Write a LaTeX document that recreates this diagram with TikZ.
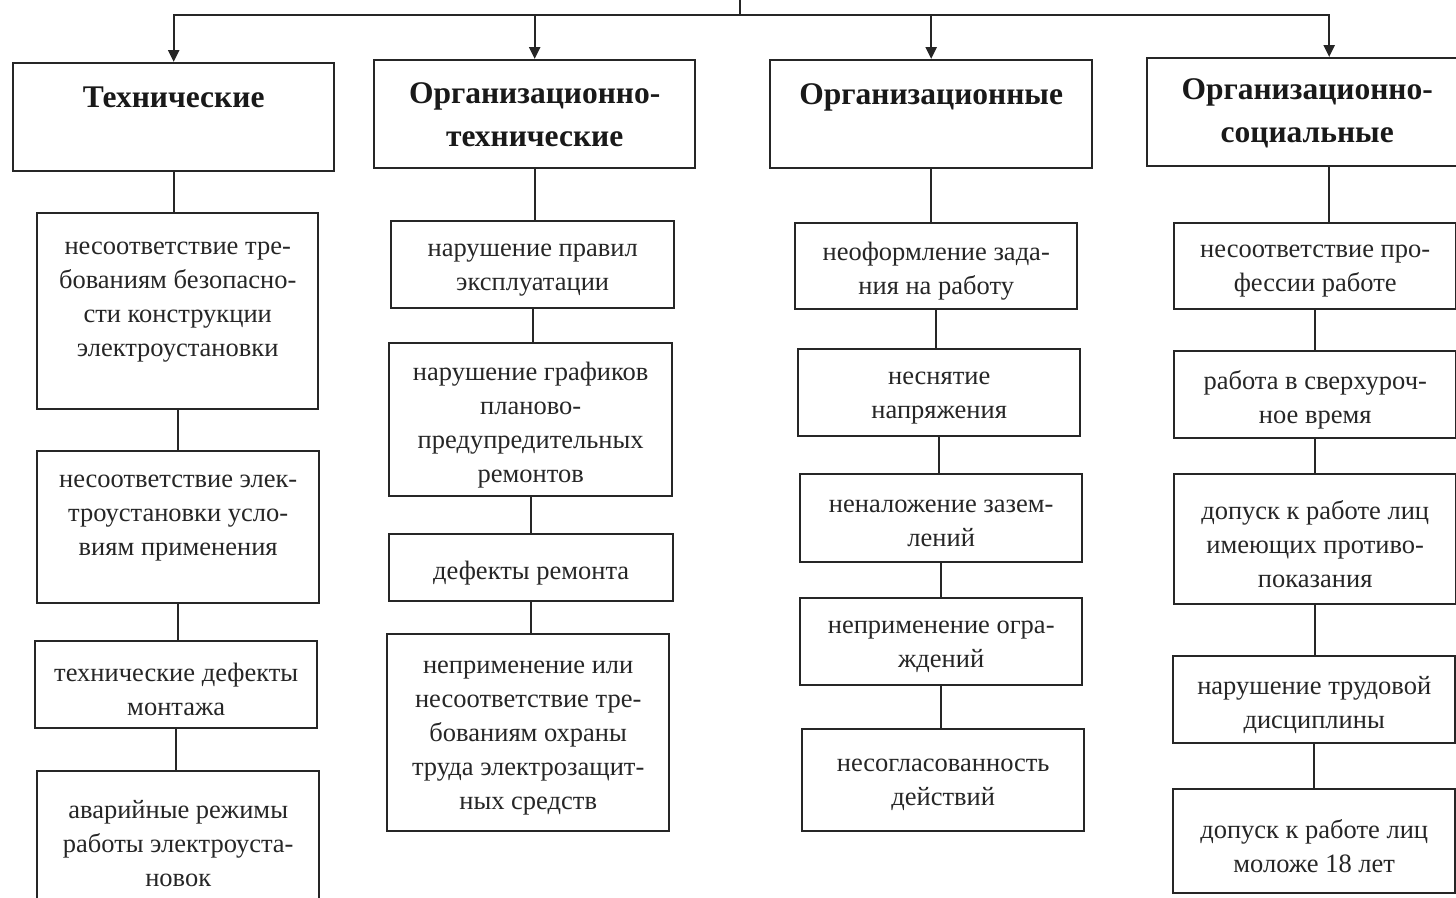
\documentclass[tikz,border=0pt]{standalone}
\usepackage{fontspec}
\setmainfont{Liberation Serif}
\usetikzlibrary{arrows.meta}
\tikzset{
 box/.style={draw=black!85, line width=2.4pt, fill=white, inner sep=0pt},
 head/.style={box},
 boxtext/.style={align=center, inner sep=0pt, text=black!85, font=\fontsize{26.5}{34}\selectfont, yshift=-5pt},
 headtext/.style={align=center, inner sep=0pt, text=black!90, font=\bfseries\fontsize{31.5}{43}\selectfont, yshift=-1pt},
 link/.style={draw=black!85, line width=2.4pt},
 arr/.style={link, -{Triangle[length=12pt,width=11pt]}},
}
\newcommand\bx[7][box]{%
  \node[#1, anchor=north west, minimum width={(#5-#3)*1pt}, minimum height={(#6-#4)*1pt}] (#2) at (#3pt,-#4pt) {};
  \node[#1text] (#2t) at (#2.center) {#7};}
\begin{document}
\begin{tikzpicture}
\useasboundingbox (0pt,0pt) rectangle (1456pt,-897pt);
% headers
\bx[head]{h1}{12}{62}{333}{170}{Технические\\\mbox{}}
\bx[head]{h2}{373}{59}{694}{167}{Организационно-\\технические}
\bx[head]{h3}{769}{59}{1091}{167}{Организационные\\\mbox{}}
\bx[head]{h4}{1146}{57}{1466}{165}{Организационно-\\социальные}
% column 1
\bx{a1}{36}{212}{317}{408}{несоответствие тре-\\бованиям безопасно-\\сти конструкции\\электроустановки\\\mbox{}}
\bx{a2}{36}{450}{318}{602}{несоответствие элек-\\троустановки усло-\\виям применения\\\mbox{}}
\bx{a3}{34}{640}{316}{727}{технические дефекты\\монтажа}
\bx{a4}{36}{770}{318}{905}{аварийные режимы\\работы электроуста-\\новок}
% column 2
\bx{b1}{390}{220}{673}{307}{нарушение правил\\эксплуатации}
\bx{b2}{388}{342}{671}{495}{нарушение графиков\\планово-\\предупредительных\\ремонтов}
\bx{b3}{388}{533}{672}{600}{дефекты ремонта}
\bx{b4}{386}{633}{668}{830}{неприменение или\\несоответствие тре-\\бованиям охраны\\труда электрозащит-\\ных средств}
% column 3
\bx{c1}{794}{222}{1076}{308}{неоформление зада-\\ния на работу}
\bx{c2}{797}{348}{1079}{435}{неснятие\\напряжения}
\bx{c3}{799}{473}{1081}{561}{неналожение зазем-\\лений}
\bx{c4}{799}{597}{1081}{684}{неприменение огра-\\ждений}
\bx{c5}{801}{728}{1083}{830}{несогласованность\\действий}
% column 4
\bx{d1}{1173}{222}{1455}{308}{несоответствие про-\\фессии работе}
\bx{d2}{1173}{350}{1455}{437}{работа в сверхуроч-\\ное время}
\bx{d3}{1173}{473}{1455}{603}{допуск к работе лиц\\имеющих противо-\\показания}
\bx{d4}{1172}{655}{1454}{742}{нарушение трудовой\\дисциплины}
\bx{d5}{1172}{788}{1454}{892}{допуск к работе лиц\\моложе 18 лет}
% top bus
\coordinate (stem) at (740pt,0pt);
\coordinate (bus) at (740pt,-15pt);
\coordinate (h4in) at ([xshift=22pt]h4.north);
\coordinate (h4out) at ([xshift=22pt]h4.south);
\draw[link] (stem) -- (bus);
\draw[link, line cap=rect] (h1.north |- bus) -- (h4in |- bus);
\foreach \h in {h1.north,h2.north,h3.north,h4in} \draw[arr] (\h |- bus) -- (\h);
% column links
\draw[link] (h4out) -- (h4out |- d1.north);
\foreach \p/\c in {h1/a1,a1/a2,a2/a3,a3/a4,h2/b1,b1/b2,b2/b3,b3/b4,h3/c1,c1/c2,c2/c3,c3/c4,c4/c5,d1/d2,d2/d3,d3/d4,d4/d5}
  \draw[link] (\p.south) -- (\p.south |- \c.north);
\end{tikzpicture}
\end{document}
